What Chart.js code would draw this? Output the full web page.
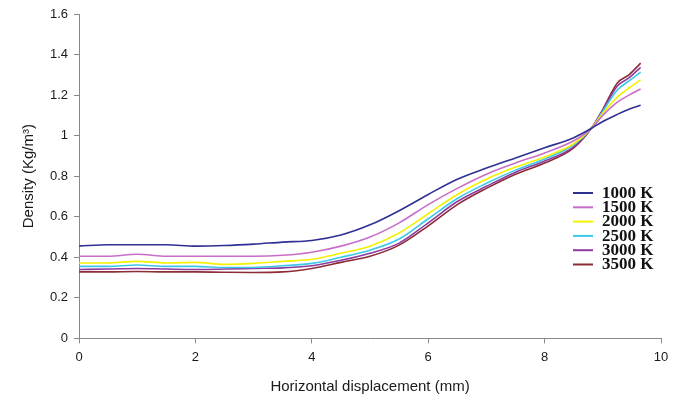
<!DOCTYPE html>
<html>
<head>
<meta charset="utf-8">
<script src="https://cdn.jsdelivr.net/npm/chart.js@4"></script>
<style>
html,body{margin:0;padding:0;background:#fff;}
#wrap{width:684px;height:404px;position:relative;}
</style>
</head>
<body>
<div id="wrap"><canvas id="c" width="684" height="404"></canvas></div>
<script>
const displacement = [0, 0.5, 1, 1.5, 2, 2.5, 3, 3.5, 4, 4.5, 5, 5.5, 6, 6.5, 7, 7.5, 8, 8.5, 8.8, 9.0, 9.25, 9.45, 9.65];
const seriesLabels = ["1000 K", "1500 K", "2000 K", "2500 K", "3000 K", "3500 K"];
const d1000 = [0.455, 0.462, 0.462, 0.462, 0.455, 0.458, 0.465, 0.475, 0.483, 0.51, 0.56, 0.63, 0.71, 0.785, 0.84, 0.89, 0.94, 0.99, 1.035, 1.07, 1.105, 1.13, 1.15];
const d1500 = [0.405, 0.405, 0.415, 0.405, 0.405, 0.405, 0.405, 0.41, 0.425, 0.455, 0.50, 0.57, 0.66, 0.74, 0.81, 0.865, 0.915, 0.975, 1.035, 1.10, 1.165, 1.20, 1.23];
const d2000 = [0.372, 0.372, 0.38, 0.372, 0.375, 0.365, 0.37, 0.38, 0.39, 0.42, 0.455, 0.52, 0.615, 0.71, 0.785, 0.845, 0.895, 0.96, 1.035, 1.11, 1.19, 1.235, 1.275];
const d2500 = [0.355, 0.355, 0.362, 0.355, 0.355, 0.35, 0.35, 0.358, 0.37, 0.40, 0.435, 0.49, 0.59, 0.69, 0.765, 0.83, 0.885, 0.955, 1.035, 1.12, 1.225, 1.27, 1.313];
const d3000 = [0.34, 0.342, 0.345, 0.342, 0.34, 0.342, 0.345, 0.348, 0.358, 0.385, 0.42, 0.47, 0.57, 0.675, 0.75, 0.82, 0.875, 0.945, 1.035, 1.125, 1.245, 1.285, 1.337];
const d3500 = [0.328, 0.328, 0.33, 0.328, 0.328, 0.326, 0.325, 0.328, 0.345, 0.375, 0.405, 0.46, 0.555, 0.66, 0.74, 0.81, 0.865, 0.94, 1.035, 1.13, 1.26, 1.30, 1.358];
const xTicks = [0, 2, 4, 6, 8, 10];
const yTicks = [0, 0.2, 0.4, 0.6, 0.8, 1, 1.2, 1.4, 1.6];

const colors = ["#2e3192", "#c86ec8", "#f2f200", "#3cc8e8", "#8e3a9e", "#8c2c36"];
const allSeries = [d1000, d1500, d2000, d2500, d3000, d3500];

const datasets = allSeries.map((arr, i) => ({
  label: seriesLabels[i],
  data: arr.map((v, j) => ({x: displacement[j], y: v})),
  borderColor: colors[i],
  backgroundColor: colors[i],
  borderWidth: 1.6,
  pointRadius: 0,
  cubicInterpolationMode: 'monotone',
  fill: false
}));

const legendPlugin = {
  id: 'customLegend',
  afterDraw(chart) {
    const ctx = chart.ctx;
    ctx.save();
    const x0 = 573, x1 = 593, tx = 602;
    let y = 193;
    const step = 14.3;
    chart.data.datasets.forEach((ds) => {
      ctx.strokeStyle = ds.borderColor;
      ctx.lineWidth = 2;
      ctx.beginPath();
      ctx.moveTo(x0, y);
      ctx.lineTo(x1, y);
      ctx.stroke();
      ctx.fillStyle = '#111';
      ctx.font = 'bold 17px "Liberation Serif", "Times New Roman", serif';
      ctx.textBaseline = 'middle';
      ctx.textAlign = 'left';
      ctx.fillText(ds.label, tx, y + 0.5);
      y += step;
    });
    ctx.restore();
  }
};

new Chart(document.getElementById('c'), {
  type: 'line',
  data: { datasets },
  options: {
    responsive: false,
    animation: false,
    layout: { padding: { left: 16, right: 23, top: 14, bottom: 4 } },
    plugins: { legend: { display: false }, tooltip: { enabled: false } },
    scales: {
      x: {
        type: 'linear',
        min: 0, max: 10,
        afterBuildTicks(axis) { axis.ticks = xTicks.map(v => ({value: v})); },
        ticks: { color: '#1a1a1a', font: { family: 'Liberation Sans, Arial, sans-serif', size: 13 }, padding: 6 },
        grid: { display: true, drawOnChartArea: false, drawTicks: true, tickLength: 5, color: '#888' },
        border: { display: true, color: '#888', width: 1 },
        title: { display: true, text: 'Horizontal displacement (mm)', color: '#1a1a1a', font: { family: 'Liberation Sans, Arial, sans-serif', size: 15 }, padding: { top: 7 } }
      },
      y: {
        type: 'linear',
        min: 0, max: 1.6,
        afterBuildTicks(axis) { axis.ticks = yTicks.map(v => ({value: v})); },
        ticks: { color: '#1a1a1a', font: { family: 'Liberation Sans, Arial, sans-serif', size: 13 }, padding: 6,
          callback: v => String(Number(v.toFixed(1))) },
        grid: { display: true, drawOnChartArea: false, drawTicks: true, tickLength: 5, color: '#888' },
        border: { display: true, color: '#888', width: 1 },
        title: { display: true, text: 'Density (Kg/m³)', color: '#1a1a1a', font: { family: 'Liberation Sans, Arial, sans-serif', size: 15 }, padding: { bottom: 6 } }
      }
    }
  },
  plugins: [legendPlugin]
});
</script>
</body>
</html>
